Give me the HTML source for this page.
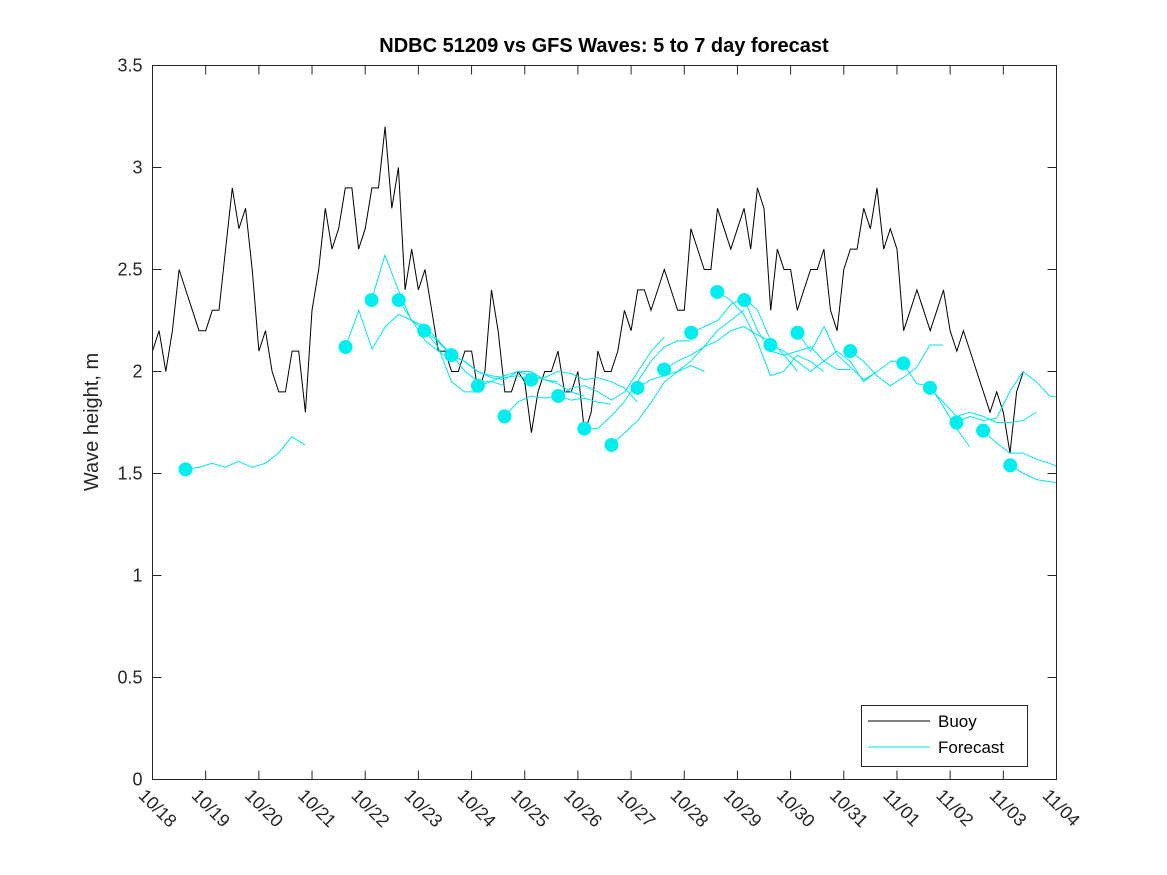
<!DOCTYPE html>
<html><head><meta charset="utf-8">
<style>
body{margin:0;background:#fff;}
svg{display:block;font-family:"Liberation Sans","DejaVu Sans",sans-serif;}
</style></head>
<body>
<svg id="chart" width="1167" height="875" viewBox="0 0 1167 875" xmlns="http://www.w3.org/2000/svg">
<defs><clipPath id="plotclip"><rect x="152.5" y="65.5" width="904" height="714"/></clipPath></defs>
<rect x="0" y="0" width="1167" height="875" fill="#fff"/>
<text x="604" y="52" text-anchor="middle" font-size="20" font-weight="bold" fill="#000">NDBC 51209 vs GFS Waves: 5 to 7 day forecast</text>
<text transform="translate(98,422) rotate(-90)" text-anchor="middle" font-size="20" fill="#262626">Wave height, m</text>
<g id="axes"></g>
<g id="series" clip-path="url(#plotclip)"></g>
<rect x="152.5" y="65.5" width="904" height="714" fill="none" stroke="#262626" stroke-width="1"/>
<g>
<rect x="861.5" y="705.5" width="166" height="61" fill="#fff" stroke="#262626"/>
<line x1="868" y1="721" x2="930" y2="721" stroke="#000" stroke-width="1"/>
<text x="938" y="727" font-size="17" fill="#000">Buoy</text>
<line x1="868" y1="747" x2="930" y2="747" stroke="#00e5ee" stroke-width="1"/>
<text x="938" y="753" font-size="17" fill="#000">Forecast</text>
</g>
</svg>
<script>
const xTickLabels=["10/18","10/19","10/20","10/21","10/22","10/23","10/24","10/25","10/26","10/27","10/28","10/29","10/30","10/31","11/01","11/02","11/03","11/04"];
const yTicks=[0,0.5,1,1.5,2,2.5,3,3.5];
const buoyStep=0.125;
const buoyValues=[
2.1,2.2,2.0,2.2,2.5,2.4,2.3,2.2,2.2,2.3,
2.3,2.6,2.9,2.7,2.8,2.5,2.1,2.2,2.0,1.9,
1.9,2.1,2.1,1.8,2.3,2.5,2.8,2.6,2.7,2.9,
2.9,2.6,2.7,2.9,2.9,3.2,2.8,3.0,2.4,2.6,
2.4,2.5,2.3,2.1,2.1,2.0,2.0,2.1,2.1,1.9,
2.0,2.4,2.2,1.9,1.9,2.0,1.95,1.7,1.9,2.0,
2.0,2.1,1.9,1.9,2.0,1.7,1.8,2.1,2.0,2.0,
2.1,2.3,2.2,2.4,2.4,2.3,2.4,2.5,2.4,2.3,
2.3,2.7,2.6,2.5,2.5,2.8,2.7,2.6,2.7,2.8,
2.6,2.9,2.8,2.3,2.6,2.5,2.5,2.3,2.4,2.5,
2.5,2.6,2.3,2.2,2.5,2.6,2.6,2.8,2.7,2.9,
2.6,2.7,2.6,2.2,2.3,2.4,2.3,2.2,2.3,2.4,
2.2,2.1,2.2,2.1,2.0,1.9,1.8,1.9,1.8,1.6,
1.9,2.0];
const fcStarts=[0.62,3.63,4.12,4.63,5.11,5.62,6.12,6.62,7.12,7.63,8.12,8.63,9.12,9.62,10.13,10.62,11.13,11.62,12.13,13.12,14.12,14.62,15.12,15.62,16.13];
const fcDots=[1.52,2.12,2.35,2.35,2.20,2.08,1.93,1.78,1.96,1.88,1.72,1.64,1.92,2.01,2.19,2.39,2.35,2.13,2.19,2.10,2.04,1.92,1.75,1.71,1.54];
const fcStep=0.25;
const fcLines=[
[1.52,1.53,1.55,1.53,1.56,1.53,1.55,1.60,1.68,1.64],
[2.12,2.30,2.11,2.22,2.28,2.25,2.15,2.10,2.05],
[2.35,2.57,2.40,2.25,2.20,2.12,1.95,1.90,1.90],
[2.35,2.25,2.22,2.15,2.08,2.00,1.95,1.95,1.93],
[2.20,2.15,2.08,2.05,2.00,1.98,1.97,1.98,1.96],
[2.08,2.05,2.00,1.97,1.96,2.00,1.98,1.96,1.95],
[1.93,1.95,1.98,2.00,2.00,1.96,1.94,1.90,1.88],
[1.78,1.85,1.88,1.87,1.88,1.86,1.87,1.85,1.84],
[1.96,1.97,2.00,1.99,1.96,1.97,1.95,1.92,1.85],
[1.88,1.92,1.93,1.90,1.86,1.90,2.00,2.10,2.17],
[1.72,1.72,1.78,1.85,1.95,2.05,2.12,2.15,2.15],
[1.64,1.70,1.76,1.85,1.95,2.00,2.03,2.00],
[1.92,1.96,1.98,2.00,2.05,2.12,2.20,2.25,2.30],
[2.01,2.05,2.08,2.12,2.15,2.20,2.22,2.18,2.15],
[2.19,2.22,2.25,2.33,2.36,2.30,2.15,2.08,2.00],
[2.39,2.35,2.28,2.15,1.98,2.00,2.08,2.05,2.00],
[2.35,2.20,2.10,2.08,2.10,2.12,2.05,2.01,2.01],
[2.13,2.10,2.05,2.00,2.05,2.10,2.05,1.95,2.00],
[2.19,2.10,2.22,2.08,2.02,1.96,2.00,2.05,2.05],
[2.10,2.05,1.98,1.93,1.97,2.02,2.13,2.13],
[2.04,1.94,1.93,1.83,1.72,1.63],
[1.92,1.85,1.78,1.80,1.78,1.75,1.75,1.76,1.80],
[1.75,1.78,1.76,1.77,1.90,2.00,1.95,1.88,1.87],
[1.71,1.65,1.60,1.60,1.57,1.55,1.52,1.50,1.48],
[1.54,1.50,1.47,1.46,1.45,1.45,1.44]
];
const NS="http://www.w3.org/2000/svg";
const X0=152.5,X1=1056.5,Y0=779.5,Y1=65.5;
const nDays=xTickLabels.length-1;
function xs(d){return X0+(X1-X0)*d/nDays;}
function ys(v){return Y0-(Y0-Y1)*v/3.5;}
function mk(tag,attrs,parent){const e=document.createElementNS(NS,tag);for(const k in attrs)e.setAttribute(k,attrs[k]);parent.appendChild(e);return e;}
const axes=document.getElementById('axes');
yTicks.forEach(v=>{
  const y=ys(v);
  const t1=mk('line',{x1:X0,y1:y,x2:X0+9,y2:y,stroke:'#262626'},axes);
  
  
  const t2=mk('line',{x1:X1-9,y1:y,x2:X1,y2:y,stroke:'#262626'},axes);
  
  
  const lb=mk('text',{x:X0-10,y:y+6,'text-anchor':'end','font-size':18,fill:'#262626'},axes);
  lb.textContent=String(v);
  
  
});
xTickLabels.forEach((l,i)=>{
  const x=xs(i);
  const t1=mk('line',{x1:x,y1:Y0,x2:x,y2:Y0-9,stroke:'#262626'},axes);
  
  
  const t2=mk('line',{x1:x,y1:Y1,x2:x,y2:Y1+9,stroke:'#262626'},axes);
  
  
  const lb=mk('text',{transform:`translate(${x-15},${Y0+17}) rotate(45)`,'font-size':18,fill:'#262626'},axes);
  lb.textContent=l;
  
  
});
const ser=document.getElementById('series');
const bp=buoyValues.map((v,i)=>xs(i*buoyStep).toFixed(1)+','+ys(v).toFixed(1)).join(' ');
const bl=mk('polyline',{points:bp,fill:'none',stroke:'#000','stroke-width':1},ser);


fcLines.forEach((arr,k)=>{
  const pts=arr.map((v,i)=>xs(fcStarts[k]+i*fcStep).toFixed(1)+','+ys(v).toFixed(1)).join(' ');
  const pl=mk('polyline',{points:pts,fill:'none',stroke:'#00e5ee','stroke-width':1},ser);
  
  
});
fcDots.forEach((v,k)=>{
  const c=mk('circle',{cx:xs(fcStarts[k]),cy:ys(v),r:7,fill:'#00eeee'},ser);
  
  
});
</script>
</body></html>
